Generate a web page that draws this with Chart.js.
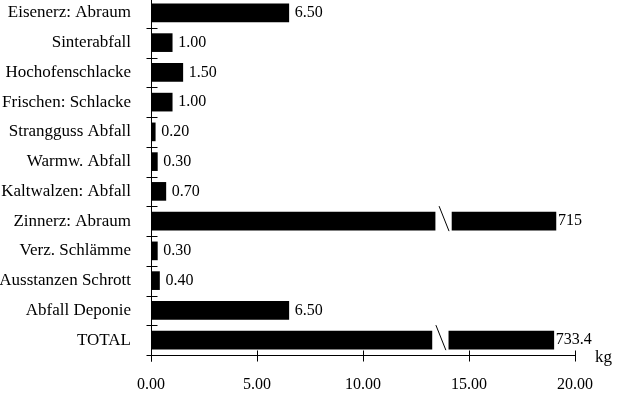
<!DOCTYPE html>
<html>
<head>
<meta charset="utf-8">
<script src="https://cdn.jsdelivr.net/npm/chart.js@4/dist/chart.umd.min.js"></script>
<style>
  html, body { margin: 0; padding: 0; background: #fff; overflow: hidden; }
  #wrap { position: absolute; left: 0; top: -2px; width: 618px; height: 398px; }
</style>
</head>
<body>
<div id="wrap"><canvas id="wasteChart" width="618" height="398"></canvas></div>
<script>
// Abfallmengen je Prozessschritt (kg)

const categories = [
    'Eisenerz: Abraum', 'Sinterabfall', 'Hochofenschlacke', 'Frischen: Schlacke',
    'Strangguss Abfall', 'Warmw. Abfall', 'Kaltwalzen: Abfall', 'Zinnerz: Abraum',
    'Verz. Schlämme', 'Ausstanzen Schrott', 'Abfall Deponie', 'TOTAL'
];
const values = [6.5, 1.0, 1.5, 1.0, 0.2, 0.3, 0.7, 715, 0.3, 0.4, 6.5, 733.4];
const valueLabels = ['6.50', '1.00', '1.50', '1.00', '0.20', '0.30', '0.70', '715', '0.30', '0.40', '6.50', '733.4'];
const xTicks = [0, 5, 10, 15, 20];

// Bars that run off the axis: [break start, break end, drawn end] in axis units
const axisBreaks = {
    'Zinnerz: Abraum': [13.4, 14.2, 19.1],
    'TOTAL': [13.25, 14.05, 19.0]
};

const FONT = 'Liberation Serif';
Chart.defaults.font.family = FONT;
Chart.defaults.color = '#000';

const lowerSegments = values.map((v, i) => {
    const br = axisBreaks[categories[i]];
    return br ? [0, br[0]] : v;
});
const upperSegments = values.map((v, i) => {
    const br = axisBreaks[categories[i]];
    return br ? [br[1], br[2]] : null;
});

// Axis lines, cross ticks, value labels and break marks
const decorations = {
    id: 'decorations',
    afterDatasetsDraw(chart) {
        const { ctx, chartArea, scales } = chart;
        const x = scales.x, y = scales.y;
        const left = Math.round(chartArea.left) + 0.5;
        const bottom = Math.round(chartArea.bottom) + 0.5;

        ctx.save();
        ctx.strokeStyle = '#000';
        ctx.lineWidth = 1;

        // y axis
        ctx.beginPath();
        ctx.moveTo(left, 0);
        ctx.lineTo(left, bottom + 6);
        ctx.stroke();

        // x axis
        ctx.beginPath();
        ctx.moveTo(left - 5, bottom);
        ctx.lineTo(Math.round(x.getPixelForValue(xTicks[xTicks.length - 1])) + 0.5, bottom);
        ctx.stroke();

        // x ticks
        xTicks.forEach(t => {
            const px = Math.round(x.getPixelForValue(t)) + 0.5;
            ctx.beginPath();
            ctx.moveTo(px, bottom - 5);
            ctx.lineTo(px, bottom + 6);
            ctx.stroke();
        });

        // y ticks between categories
        for (let i = 0; i < categories.length - 1; i++) {
            const py = Math.round((y.getPixelForValue(i) + y.getPixelForValue(i + 1)) / 2) + 0.5;
            ctx.beginPath();
            ctx.moveTo(left - 5, py);
            ctx.lineTo(left + 6, py);
            ctx.stroke();
        }

        // value labels and break marks
        const metaLow = chart.getDatasetMeta(0);
        ctx.fillStyle = '#000';
        ctx.textBaseline = 'middle';
        ctx.textAlign = 'left';
        ctx.font = '16px "' + FONT + '"';
        categories.forEach((cat, i) => {
            const bar = metaLow.data[i];
            const br = axisBreaks[cat];
            const cy = y.getPixelForValue(i);
            if (br) {
                const gFrom = x.getPixelForValue(br[0]);
                const gTo = x.getPixelForValue(br[1]);
                const half = bar.height / 2;
                ctx.beginPath();
                ctx.moveTo(gFrom + 4, cy - half - 6);
                ctx.lineTo(gTo - 3, cy + half + 1);
                ctx.stroke();
                ctx.fillText(valueLabels[i], x.getPixelForValue(br[2]) + 2, cy);
            } else {
                ctx.fillText(valueLabels[i], x.getPixelForValue(values[i]) + 6, cy);
            }
        });

        // unit
        ctx.font = '17px "' + FONT + '"';
        ctx.textBaseline = 'alphabetic';
        ctx.fillText('kg', chartArea.right + 20, bottom + 6);

        ctx.restore();
    }
};

new Chart(document.getElementById('wasteChart'), {
    type: 'bar',
    data: {
        labels: categories,
        datasets: [
            {
                data: lowerSegments,
                backgroundColor: '#000',
                barThickness: 18,
                grouped: false
            },
            {
                data: upperSegments,
                backgroundColor: '#000',
                barThickness: 18,
                grouped: false
            }
        ]
    },
    options: {
        indexAxis: 'y',
        responsive: false,
        animation: false,
        layout: {
            padding: { top: 0, right: 43, bottom: 0, left: 0 }
        },
        plugins: {
            legend: { display: false },
            tooltip: { enabled: false }
        },
        scales: {
            x: {
                min: 0,
                max: 20,
                afterBuildTicks: scale => {
                    scale.ticks = xTicks.map(v => ({ value: v }));
                },
                afterFit: scale => { scale.height = 41; },
                grid: { display: false, drawTicks: false },
                border: { display: false },
                ticks: {
                    padding: 20,
                    font: { size: 16 },
                    callback: v => Number(v).toFixed(2)
                }
            },
            y: {
                afterFit: scale => {
                    scale.width = 151;
                    scale.paddingTop = 0;
                    scale.paddingBottom = 0;
                },
                grid: { display: false, drawTicks: false },
                border: { display: false },
                ticks: {
                    padding: 20,
                    font: { size: 17 }
                }
            }
        }
    },
    plugins: [decorations]
});
</script>
</body>
</html>
